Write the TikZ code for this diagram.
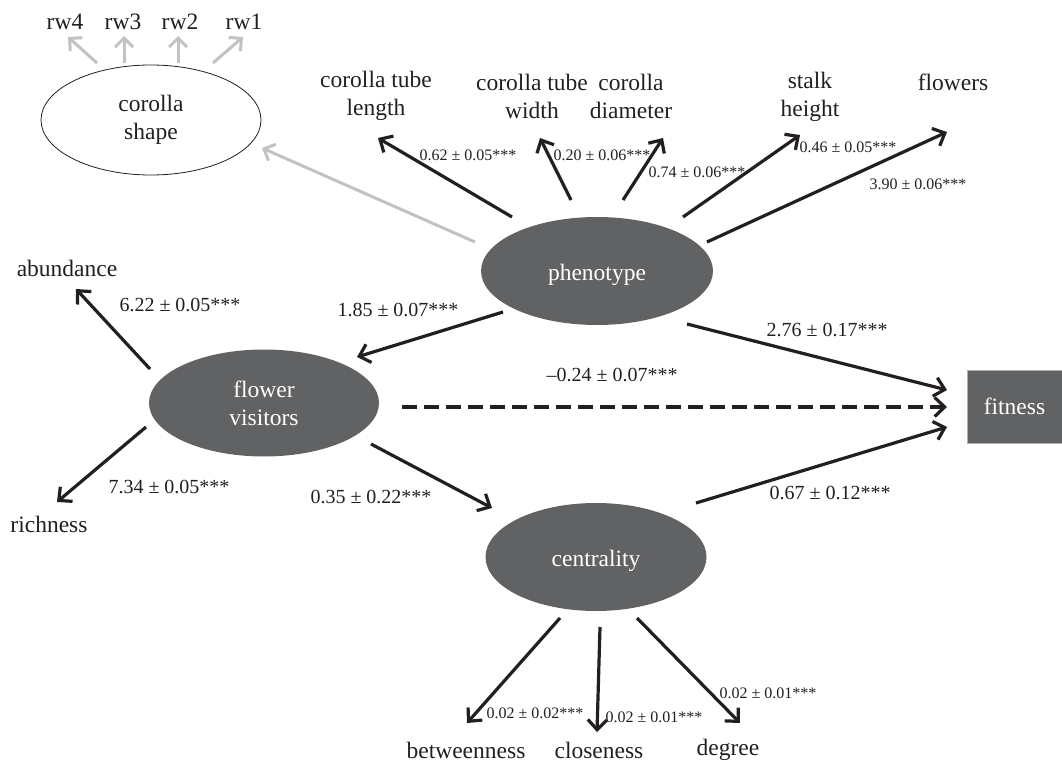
\documentclass[tikz,border=0pt]{standalone}
\usepackage{fontspec}
\setmainfont{Liberation Serif}
\usetikzlibrary{arrows.meta,shapes.geometric}
\definecolor{latent}{HTML}{616264}
\definecolor{greyarr}{HTML}{C2C2C2}
\definecolor{ink}{HTML}{231F20}
\definecolor{fitborder}{HTML}{B0B0B0}
\tikzset{
  txt/.style={font=\fontsize{23.5}{28}\selectfont, align=center, inner sep=0pt, text=ink},
  lab/.style={font=\fontsize{20}{24}\selectfont, inner sep=0pt, text=ink},
  slab/.style={font=\fontsize{16}{19}\selectfont, inner sep=0pt, text=ink},
  latentnode/.style={ellipse, fill=latent, text=white, inner sep=0pt, align=center,
     font=\fontsize{23.5}{28}\selectfont},
  arr/.style={draw=ink, line width=3.2pt, -{Straight Barb[length=10pt,width=19pt]}},
  garr/.style={draw=greyarr, line width=3pt, -{Straight Barb[length=9pt,width=18pt]}},
  darr/.style={arr, dash pattern=on 15pt off 7pt},
}
\begin{document}
\begin{tikzpicture}[x=1pt,y=-1pt]
\useasboundingbox (0,0) rectangle (1062,765);
% latent nodes
\node[ellipse, draw=ink, line width=0.8pt, minimum width=220pt, minimum height=110pt, inner sep=0pt, txt] (shape) at (151,120) {corolla\\shape};
\node[latentnode, minimum width=232pt, minimum height=108pt] (phen) at (597,271) {\raisebox{-4pt}[\height][\depth]{phenotype}};
\node[latentnode, minimum width=230pt, minimum height=107pt] (fv) at (264,403) {flower\\visitors};
\node[latentnode, minimum width=221pt, minimum height=108pt] (cent) at (596,557) {\raisebox{-4pt}[\height][\depth]{centrality}};
\node[rectangle, fill=latent, draw=fitborder, line width=0.8pt, text=white, minimum width=95pt, minimum height=73pt, inner sep=0pt, font=\fontsize{23.5}{28}\selectfont] (fit) at (1014.5,406.5) {fitness};
% observed nodes
\node[txt] (rw4) at (65,22) {rw4};
\node[txt] (rw3) at (123,22) {rw3};
\node[txt] (rw2) at (180,22) {rw2};
\node[txt] (rw1) at (244,22) {rw1};
\node[txt] (ctl) at (376,96) {corolla tube\\length};
\node[txt] (ctw) at (532,96) {corolla tube\\width};
\node[txt] (cd) at (631,96) {corolla\\diameter};
\node[txt] (stalk) at (810,97) {stalk\\height};
\node[txt] (flowers) at (953,82) {flowers};
\node[txt] (abund) at (67,268) {abundance};
\node[txt] (rich) at (49,524) {richness};
\node[txt] (betw) at (466,750) {betweenness};
\node[txt] (close) at (599,750) {closeness};
\node[txt] (degree) at (728,750) {degree};
% grey connectors
\draw[garr] ([shift={(-54,-57)}]shape.center) -- ([shift={(3,15)}]rw4.center);
\draw[garr] ([shift={(-27,-57)}]shape.center) -- ([shift={(1,14)}]rw3.center);
\draw[garr] ([shift={(27,-57)}]shape.center) -- ([shift={(-2,14)}]rw2.center);
\draw[garr] ([shift={(62,-57)}]shape.center) -- ([shift={(-1,15)}]rw1.center);
\draw[garr] ([shift={(-122,-29)}]phen.center) -- ([shift={(111,28)}]shape.center);
% phenotype indicators
\draw[arr] ([shift={(-85,-54)}]phen.center) -- ([shift={(2,42)}]ctl.center);
\draw[arr] ([shift={(-26,-71)}]phen.center) -- ([shift={(8,42)}]ctw.center);
\draw[arr] ([shift={(26,-71)}]phen.center) -- ([shift={(32,42)}]cd.center);
\draw[arr] ([shift={(86,-54)}]phen.center) -- ([shift={(-10,38)}]stalk.center);
\draw[arr] ([shift={(110,-29)}]phen.center) -- ([shift={(-6,50)}]flowers.center);
% flower visitors indicators
\draw[arr] ([shift={(-114,-34)}]fv.center) -- ([shift={(9,21)}]abund.center);
\draw[arr] ([shift={(-118,24)}]fv.center) -- ([shift={(8,-22)}]rich.center);
% centrality indicators
\draw[arr] ([shift={(-36,61)}]cent.center) -- ([shift={(1,-27)}]betw.center);
\draw[arr] ([shift={(4,70)}]cent.center) -- ([shift={(-2,-18)}]close.center);
\draw[arr] ([shift={(41,61)}]cent.center) -- ([shift={(12,-27)}]degree.center);
% structural paths
\draw[arr] ([shift={(-94,41)}]phen.center) -- ([shift={(93,-46)}]fv.center);
\draw[arr] ([shift={(90,53)}]phen.center) -- ([shift={(-67.5,-16.5)}]fit.center);
\draw[darr] ([shift={(138,4)}]fv.center) -- ([shift={(-67.5,0.5)}]fit.center);
\draw[arr] ([shift={(107,41)}]fv.center) -- ([shift={(-104,-49)}]cent.center);
\draw[arr] ([shift={(100,-54)}]cent.center) -- ([shift={(-67.5,20.5)}]fit.center);
% labels
\node[slab] (l1) at (468,155) {0.62 ± 0.05***};
\node[slab] (l2) at (602,155) {0.20 ± 0.06***};
\node[slab] (l3) at (697,172) {0.74 ± 0.06***};
\node[slab] (l4) at (848,147) {0.46 ± 0.05***};
\node[slab] (l5) at (918,184) {3.90 ± 0.06***};
\node[lab] (l6) at (180,305) {6.22 ± 0.05***};
\node[lab] (l7) at (398,310) {1.85 ± 0.07***};
\node[lab] (l8) at (169,487) {7.34 ± 0.05***};
\node[lab] (l9) at (371,497) {0.35 ± 0.22***};
\node[lab] (l10) at (612,375) {–0.24 ± 0.07***};
\node[lab] (l11) at (827,330) {2.76 ± 0.17***};
\node[lab] (l12) at (830,493) {0.67 ± 0.12***};
\node[slab] (l13) at (535,713) {0.02 ± 0.02***};
\node[slab] (l14) at (654,717) {0.02 ± 0.01***};
\node[slab] (l15) at (768,693) {0.02 ± 0.01***};
\end{tikzpicture}
\end{document}
